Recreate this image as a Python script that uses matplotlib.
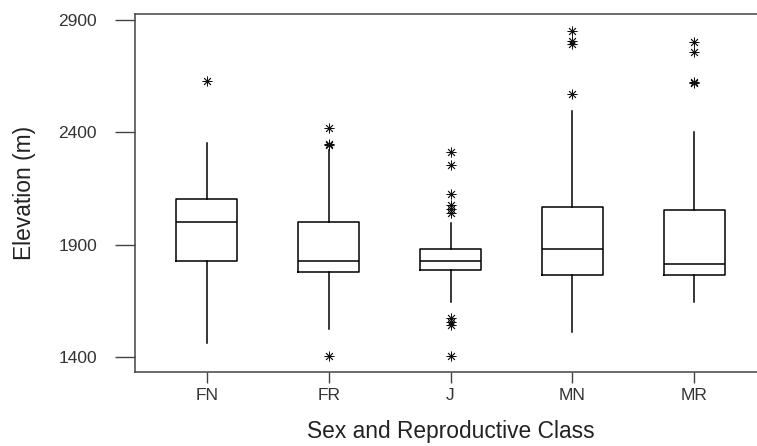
import matplotlib
matplotlib.use("Agg")
import matplotlib.pyplot as plt

# elevation summaries per sex / reproductive class
classes = ["FN", "FR", "J", "MN", "MR"]
q1 = [1827, 1778, 1787, 1765, 1765]
med = [2001, 1827, 1827, 1880, 1813]
q3 = [2103, 2001, 1880, 2068, 2054]
whis_lo = [1462, 1524, 1645, 1511, 1645]
whis_hi = [2352, 2321, 1996, 2495, 2401]
outliers = [
    [2628],
    [2419, 2348, 2343, 1404],
    [2312, 2255, 2125, 2077, 2059, 2041, 1573, 1556, 1542, 1404],
    [2851, 2807, 2793, 2570],
    [2802, 2758, 2624, 2618],
]
yticks = [1400, 1900, 2400, 2900]

plt.rcParams["font.family"] = ["Liberation Sans", "DejaVu Sans"]

stats = []
for i, c in enumerate(classes):
    stats.append({"label": c, "q1": q1[i], "med": med[i], "q3": q3[i],
                  "whislo": whis_lo[i], "whishi": whis_hi[i],
                  "fliers": outliers[i]})

fig = plt.figure(figsize=(7.57, 4.46), dpi=100)
ax = fig.add_axes([135 / 757, 74 / 446, 631 / 757, 358 / 446])

line = dict(color="black", linewidth=1.1)
ax.bxp(stats, widths=0.5, showcaps=False,
       boxprops=line, whiskerprops=line, medianprops=line,
       flierprops=dict(marker=(8, 2, 0), markersize=7, markeredgewidth=0.6,
                       markeredgecolor="#111111", linestyle="none"))

ax.set_xlim(0.41, 5.59)
ax.set_ylim(1333, 2927)
ax.set_yticks(yticks)
ax.set_xticks(range(1, len(classes) + 1), classes)

for s in ax.spines.values():
    s.set_color("#444444")
    s.set_linewidth(1.1)

ax.tick_params(axis="y", direction="out", length=14.4, width=1.0, pad=13,
               labelsize=12.5, colors="#444444", labelcolor="#333333")
ax.tick_params(axis="x", direction="out", length=8, width=1.0, pad=3.5,
               labelsize=12.5, colors="#444444", labelcolor="#333333")

ax.set_xlabel("Sex and Reproductive Class", fontsize=16.4, color="#222222", labelpad=12)
ax.set_ylabel("Elevation (m)", fontsize=16.4, color="#222222", labelpad=16)

fig.savefig("out.png", dpi=100)
